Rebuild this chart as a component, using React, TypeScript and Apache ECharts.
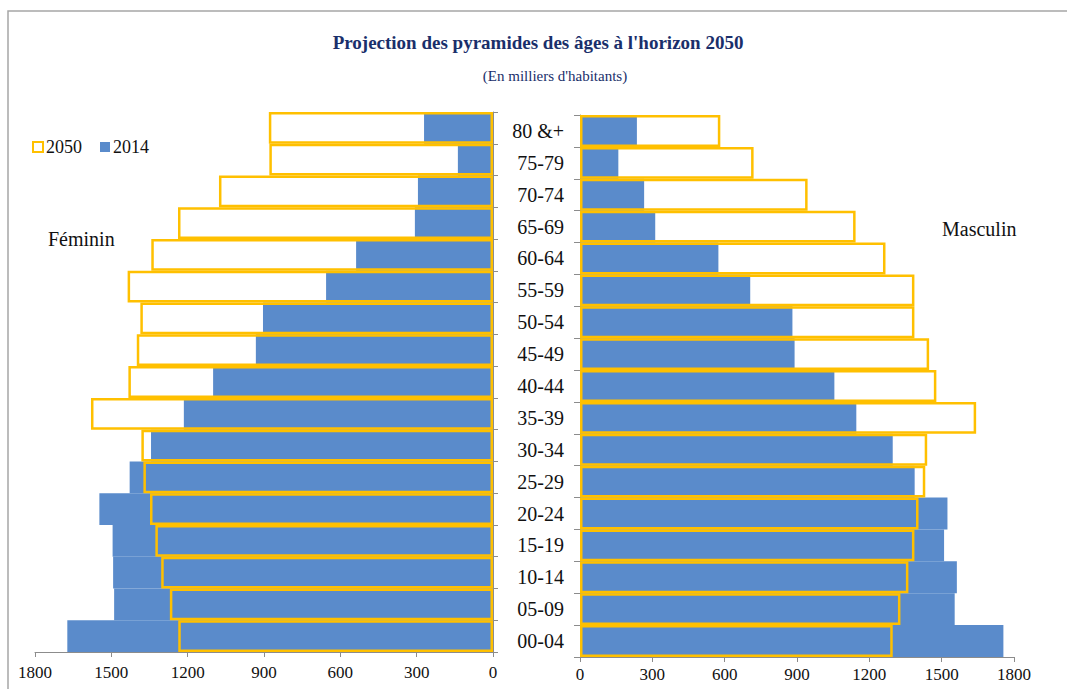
import React, { useEffect, useRef } from "react";
import * as echarts from "echarts";

const categories = ["00-04", "05-09", "10-14", "15-19", "20-24", "25-29", "30-34", "35-39", "40-44", "45-49", "50-54", "55-59", "60-64", "65-69", "70-74", "75-79", "80 &+"];
const female2014 = [1673, 1489, 1493, 1495, 1547, 1428, 1344, 1215, 1100, 932, 904, 656, 538, 307, 295, 138, 271];
const female2050 = [1237, 1270, 1304, 1327, 1348, 1374, 1382, 1580, 1433, 1400, 1386, 1436, 1343, 1238, 1077, 879, 881];
const male2014 = [1756, 1554, 1563, 1510, 1524, 1388, 1297, 1146, 1055, 890, 881, 706, 574, 312, 266, 159, 236];
const male2050 = [1297, 1329, 1362, 1387, 1404, 1432, 1440, 1643, 1478, 1448, 1387, 1387, 1267, 1143, 944, 720, 582];
const xTicks = { min: 0, max: 1800, interval: 300 };

const SERIF = "Liberation Serif";
const BLUE = "#5a8bcb";
const GOLD = "#ffc000";
const NAVY = "#1a2f6b";

export default function App() {
  const ref = useRef<HTMLDivElement>(null);
  useEffect(() => {
    if (!ref.current) return;
    const chart = echarts.init(ref.current, undefined, { renderer: "svg" });
    const axisLine = { show: true, lineStyle: { color: "#8c8c8c", width: 1 } };
    const xAxisCommon = {
      type: "value" as const,
      min: xTicks.min,
      max: xTicks.max,
      interval: xTicks.interval,
      splitLine: { show: false },
      axisLine,
      axisTick: { show: true, length: 5, lineStyle: { color: "#8c8c8c" } },
      axisLabel: {
        fontFamily: SERIF,
        fontSize: 17,
        color: "#111",
        formatter: (v: number) => String(v),
      },
    };
    const blueStyle = { color: BLUE };
    const goldStyle = { color: "rgba(255,255,255,0)", borderColor: GOLD, borderWidth: 2.5 };
    chart.setOption({
      animation: false,
      backgroundColor: "#ffffff",
      title: [
        {
          text: "Projection des pyramides des âges à l'horizon 2050",
          left: 533,
          textAlign: "center",
          top: 28,
          textStyle: { fontFamily: SERIF, fontSize: 19, fontWeight: "bold", color: NAVY },
        },
        {
          text: "(En milliers d'habitants)",
          left: 550,
          textAlign: "center",
          top: 63,
          textStyle: { fontFamily: SERIF, fontSize: 15, fontWeight: "normal", color: NAVY },
        },
      ],
      legend: {
        left: 27,
        top: 133,
        data: ["2050", "2014"],
        itemWidth: 10,
        itemHeight: 10,
        itemGap: 18,
        icon: "rect",
        textStyle: { fontFamily: SERIF, fontSize: 18, color: "#111", padding: [0, 0, 0, -2] },
      },
      graphic: [
        {
          type: "rect",
          shape: { x: 8, y: 11, width: 1200, height: 800 },
          style: { fill: "none", stroke: "#a6a6a6", lineWidth: 1.5 },
          silent: true,
          z: -10,
        },
        {
          type: "text",
          left: 48,
          top: 229,
          style: { text: "Féminin", font: `20px "${SERIF}"`, fill: "#111" },
        },
        {
          type: "text",
          left: 942,
          top: 219,
          style: { text: "Masculin", font: `20px "${SERIF}"`, fill: "#111" },
        },
      ],
      grid: [
        { left: 35, right: 574, top: 112, bottom: 37 },
        { left: 580, right: 53, top: 115, bottom: 32 },
      ],
      xAxis: [
        { ...xAxisCommon, gridIndex: 0, inverse: true, axisLabel: { ...xAxisCommon.axisLabel, margin: 12 } },
        { ...xAxisCommon, gridIndex: 1, axisLabel: { ...xAxisCommon.axisLabel, margin: 9 } },
      ],
      yAxis: [
        {
          type: "category",
          gridIndex: 0,
          position: "right",
          data: categories,
          axisLine,
          axisTick: { show: true, length: 5, lineStyle: { color: "#8c8c8c" } },
          axisLabel: { show: false },
        },
        {
          type: "category",
          gridIndex: 1,
          position: "left",
          data: categories,
          axisLine,
          axisTick: { show: true, length: 6, lineStyle: { color: "#8c8c8c" } },
          axisLabel: { fontFamily: SERIF, fontSize: 20, color: "#111", margin: 16 },
        },
      ],
      series: [
        {
          name: "2014",
          type: "bar",
          xAxisIndex: 0,
          yAxisIndex: 0,
          data: female2014,
          barCategoryGap: "0%",
          barGap: "-100%",
          itemStyle: blueStyle,
        },
        {
          name: "2050",
          type: "bar",
          xAxisIndex: 0,
          yAxisIndex: 0,
          data: female2050,
          barCategoryGap: "0%",
          barGap: "-100%",
          itemStyle: goldStyle,
          z: 3,
        },
        {
          name: "2014",
          type: "bar",
          xAxisIndex: 1,
          yAxisIndex: 1,
          data: male2014,
          barCategoryGap: "0%",
          barGap: "-100%",
          itemStyle: blueStyle,
        },
        {
          name: "2050",
          type: "bar",
          xAxisIndex: 1,
          yAxisIndex: 1,
          data: male2050,
          barCategoryGap: "0%",
          barGap: "-100%",
          itemStyle: goldStyle,
          z: 3,
        },
      ],
    });
    return () => chart.dispose();
  }, []);
  return (
    <div
      ref={ref}
      style={{ position: "fixed", left: 0, top: 0, width: 1067, height: 689 }}
    />
  );
}
